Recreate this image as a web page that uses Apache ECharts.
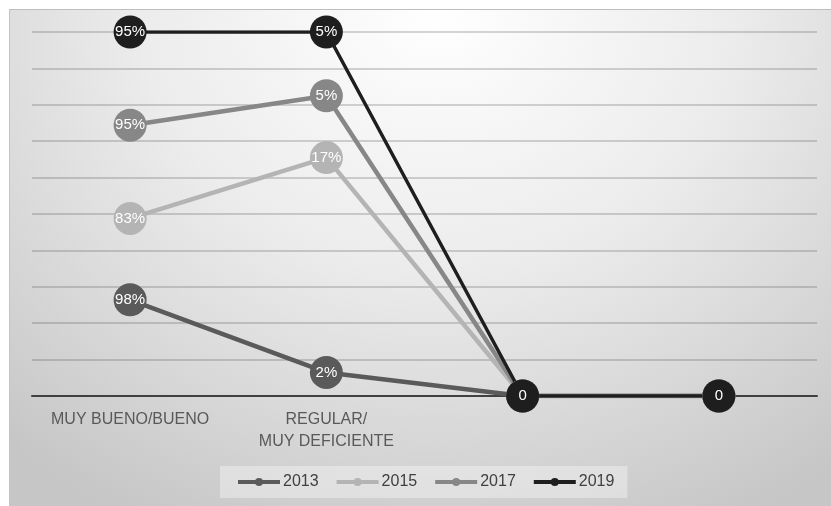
<!DOCTYPE html>
<html>
<head>
<meta charset="utf-8">
<script src="https://cdn.jsdelivr.net/npm/echarts@6/dist/echarts.min.js"></script>
<style>
  html, body { margin: 0; padding: 0; background: #ffffff; }
  #bg { position: absolute; left: 9px; top: 9px; width: 822px; height: 497px;
        border-top: 1px solid #bdbdbd; border-left: 1px solid #c4c4c4; box-sizing: border-box;
        background: radial-gradient(ellipse 80% 115% at 52% 0%, #ffffff 0%, #ececec 45%, #d4d4d4 80%, #c6c6c6 100%); }
  #chart { position: absolute; left: 0; top: 0; width: 831px; height: 506px; }
</style>
</head>
<body>
<div id="bg"></div>
<div id="chart"></div>
<script>
// Categories (x axis)
var categories = ['MUY BUENO/BUENO', 'REGULAR/\nMUY DEFICIENTE', '', ''];
var seriesNames = ['2013', '2015', '2017', '2019'];
// Stacked values (read from point positions)
var v2013 = [98, 24, 0, 0];
var v2015 = [83, 219, 0, 0];
var v2017 = [95, 63, 0, 0];
var v2019 = [95, 65, 0, 0];
// Data label texts shown in the markers
var l2013 = ['98%', '2%', '', ''];
var l2015 = ['83%', '17%', '', ''];
var l2017 = ['95%', '5%', '', ''];
var l2019 = ['95%', '5%', '0', '0'];
var colors = ['#5a5a5a', '#b4b4b4', '#878787', '#1e1e1e'];

var values = [v2013, v2015, v2017, v2019];
var labels = [l2013, l2015, l2017, l2019];
var widths = [4.5, 4.5, 4.5, 3.5];

var chart = echarts.init(document.getElementById('chart'), null, { renderer: 'canvas' });
var series = seriesNames.map(function (name, i) {
  return {
    name: name,
    type: 'line',
    stack: 'total',
    data: values[i],
    symbol: 'circle',
    symbolSize: 33,
    color: colors[i],
    lineStyle: { width: widths[i], color: colors[i] },
    itemStyle: { color: colors[i] },
    label: {
      show: true,
      position: 'inside',
      color: '#ffffff',
      fontSize: 15,
      fontFamily: 'Liberation Sans, Arial, sans-serif',
      formatter: function (p) { return labels[i][p.dataIndex]; }
    },
    emphasis: { disabled: true },
    animation: false
  };
});

chart.setOption({
  backgroundColor: 'transparent',
  animation: false,
  grid: { left: 32, right: 14, top: 32, bottom: 110 },
  legend: {
    data: seriesNames,
    bottom: 8,
    left: 220,
    itemWidth: 42,
    itemHeight: 10,
    itemGap: 16,
    lineStyle: { width: 4 },
    backgroundColor: 'rgba(255,255,255,0.35)',
    padding: [8, 13, 8, 16],
    textStyle: { fontSize: 16, color: '#404040', fontFamily: 'Liberation Sans, Arial, sans-serif', padding: [0, 0, 0, -2] }
  },
  xAxis: {
    type: 'category',
    data: categories,
    boundaryGap: true,
    axisLine: { lineStyle: { color: '#404040', width: 2 } },
    axisTick: { show: false },
    axisLabel: {
      interval: 0,
      margin: 13,
      fontSize: 16,
      lineHeight: 22,
      color: '#595959',
      fontFamily: 'Liberation Sans, Arial, sans-serif'
    }
  },
  yAxis: {
    type: 'value',
    min: 0,
    max: 371,
    interval: 37.1,
    axisLabel: { show: false },
    axisLine: { show: false },
    axisTick: { show: false },
    splitLine: { lineStyle: { color: 'rgba(70,70,70,0.3)', width: 1.5 } }
  },
  series: series
});
</script>
</body>
</html>
